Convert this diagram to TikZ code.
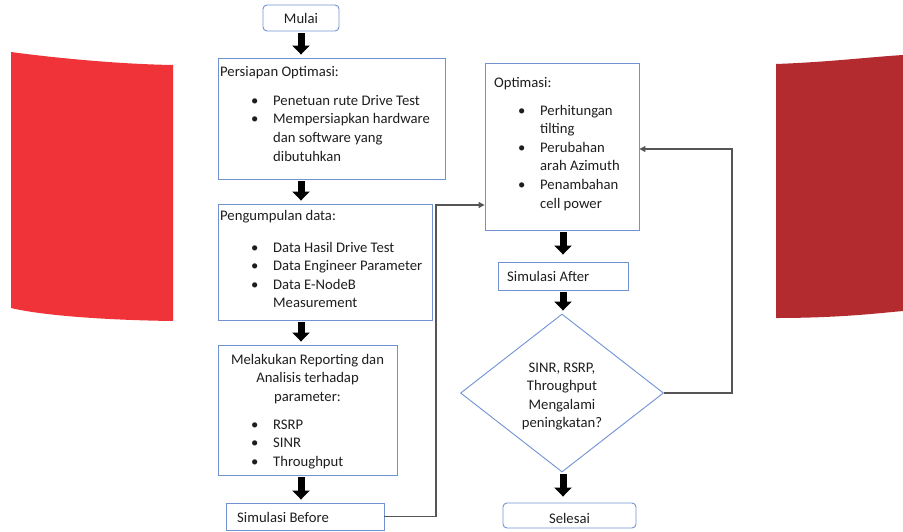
\documentclass[tikz,border=0pt]{standalone}
\usepackage{fontspec}
\setmainfont{Carlito}
\usetikzlibrary{arrows.meta,shapes.geometric}
\definecolor{boxblue}{RGB}{112,146,210}
\definecolor{conngray}{RGB}{85,85,85}
\definecolor{txtcol}{RGB}{30,30,30}
\definecolor{redL}{RGB}{239,51,56}
\definecolor{redR}{RGB}{179,43,47}
\newcommand\bulitem[1]{\hspace*{#1}\makebox[22pt][l]{\textbullet}}
\begin{document}
\begin{tikzpicture}[x=1pt,y=-1pt,
  box/.style={draw=boxblue, line width=0.9pt, inner sep=0pt},
  term/.style={box, rounded corners=4pt},
  txt/.style={inner sep=0pt, text=txtcol, font=\fontsize{14.67}{18.6}\selectfont, align=left},
  bigarrow/.style={line width=7pt, black, -{Triangle[length=9pt,width=17pt]}, shorten <=2pt, shorten >=3pt},
  conn/.style={draw=conngray, line width=1.1pt, -{Triangle[length=6pt,width=6pt]}}]
\useasboundingbox (0,0) rectangle (903,531);
% decorative red shapes
\fill[redL] (11,52) .. controls (40,56) and (110,64) .. (173,65) -- (173,321)
  .. controls (100,320) and (40,315) .. (11,308) -- cycle;
\fill[redR] (776,64) .. controls (830,62) and (870,57) .. (903,55) -- (903,311)
  .. controls (880,313) and (840,318) .. (776,318) -- cycle;
% boxes
\node[term, minimum width=76pt, minimum height=26pt] (mulai) at (301,18) {};
\node[box, minimum width=227pt, minimum height=121pt] (per) at (331.5,118.5) {};
\node[box, minimum width=214pt, minimum height=116pt] (pen) at (325,262) {};
\node[box, minimum width=179pt, minimum height=130pt] (mel) at (307.5,410) {};
\node[box, minimum width=158pt, minimum height=27pt] (before) at (305,516.5) {};
\node[box, minimum width=154pt, minimum height=167pt] (opt) at (562,146.5) {};
\node[box, minimum width=130pt, minimum height=28pt] (after) at (563,276) {};
\node[box, diamond, minimum width=203pt, minimum height=158pt] (dec) at (562,393) {};
\node[term, minimum width=133pt, minimum height=25pt] (selesai) at (569.5,515.5) {};
% texts (multi-line nodes anchored at the baseline of their last line)
\node[txt, anchor=base] (tMulai) at (301,23) {Mulai};
\node[txt, anchor=base west] (tPer) at (220,161) {Persiapan Optimasi:\\[10.4pt]
  \bulitem{31pt}Penetuan rute Drive Test\\
  \bulitem{31pt}Mempersiapkan hardware\\
  \hspace*{53pt}dan software yang\\
  \hspace*{53pt}dibutuhkan};
\node[txt, anchor=base west] (tPen) at (220,307.8) {Pengumpulan data:\\[13.4pt]
  \bulitem{31pt}Data Hasil Drive Test\\
  \bulitem{31pt}Data Engineer Parameter\\
  \bulitem{31pt}Data E-NodeB\\
  \hspace*{53pt}Measurement};
\node[txt, align=center, anchor=base] (tMel) at (307.5,401.2) {Melakukan Reporting dan\\Analisis terhadap\\parameter:};
\node[txt, anchor=base west] (tMelB) at (251,466.2) {\bulitem{0pt}RSRP\\ \bulitem{0pt}SINR\\ \bulitem{0pt}Throughput};
\node[txt, anchor=base west] (tBefore) at (237,522) {Simulasi Before};
\node[txt, anchor=base west] (tOpt) at (494,208) {Optimasi:\\[9.4pt]
  \bulitem{24pt}Perhitungan\\
  \hspace*{46pt}tilting\\
  \bulitem{24pt}Perubahan\\
  \hspace*{46pt}arah Azimuth\\
  \bulitem{24pt}Penambahan\\
  \hspace*{46pt}cell power};
\node[txt, anchor=base west] (tAfter) at (507,281) {Simulasi After};
\node[txt, align=center, anchor=base] (tDec) at (562,427.8) {SINR, RSRP,\\Throughput\\Mengalami\\peningkatan?};
\node[txt, anchor=base] (tSelesai) at (569.5,523) {Selesai};
% thick arrows
\coordinate (xL) at (301,0);
\coordinate (xR) at (563,0);
\draw[bigarrow] (mulai.south -| xL) -- (per.north -| xL);
\draw[bigarrow] (per.south -| xL) -- (pen.north -| xL);
\draw[bigarrow] (pen.south -| xL) -- (mel.north -| xL);
\draw[bigarrow] (mel.south -| xL) -- (before.north -| xL);
\draw[bigarrow, shorten >=7pt] (opt.south -| xR) -- (after.north -| xR);
\draw[bigarrow] (after.south -| xR) -- (dec.north -| xR);
\draw[bigarrow, shorten >=6pt] (dec.south -| xR) -- (selesai.north -| xR);
% connectors
\coordinate (j1) at (436,205);
\draw[conn] (before.east) -| (j1) -- (j1 -| opt.west);
\coordinate (j2) at (732,149);
\draw[conn] (dec.east) -| (j2) -- (j2 -| opt.east);
\end{tikzpicture}
\end{document}
